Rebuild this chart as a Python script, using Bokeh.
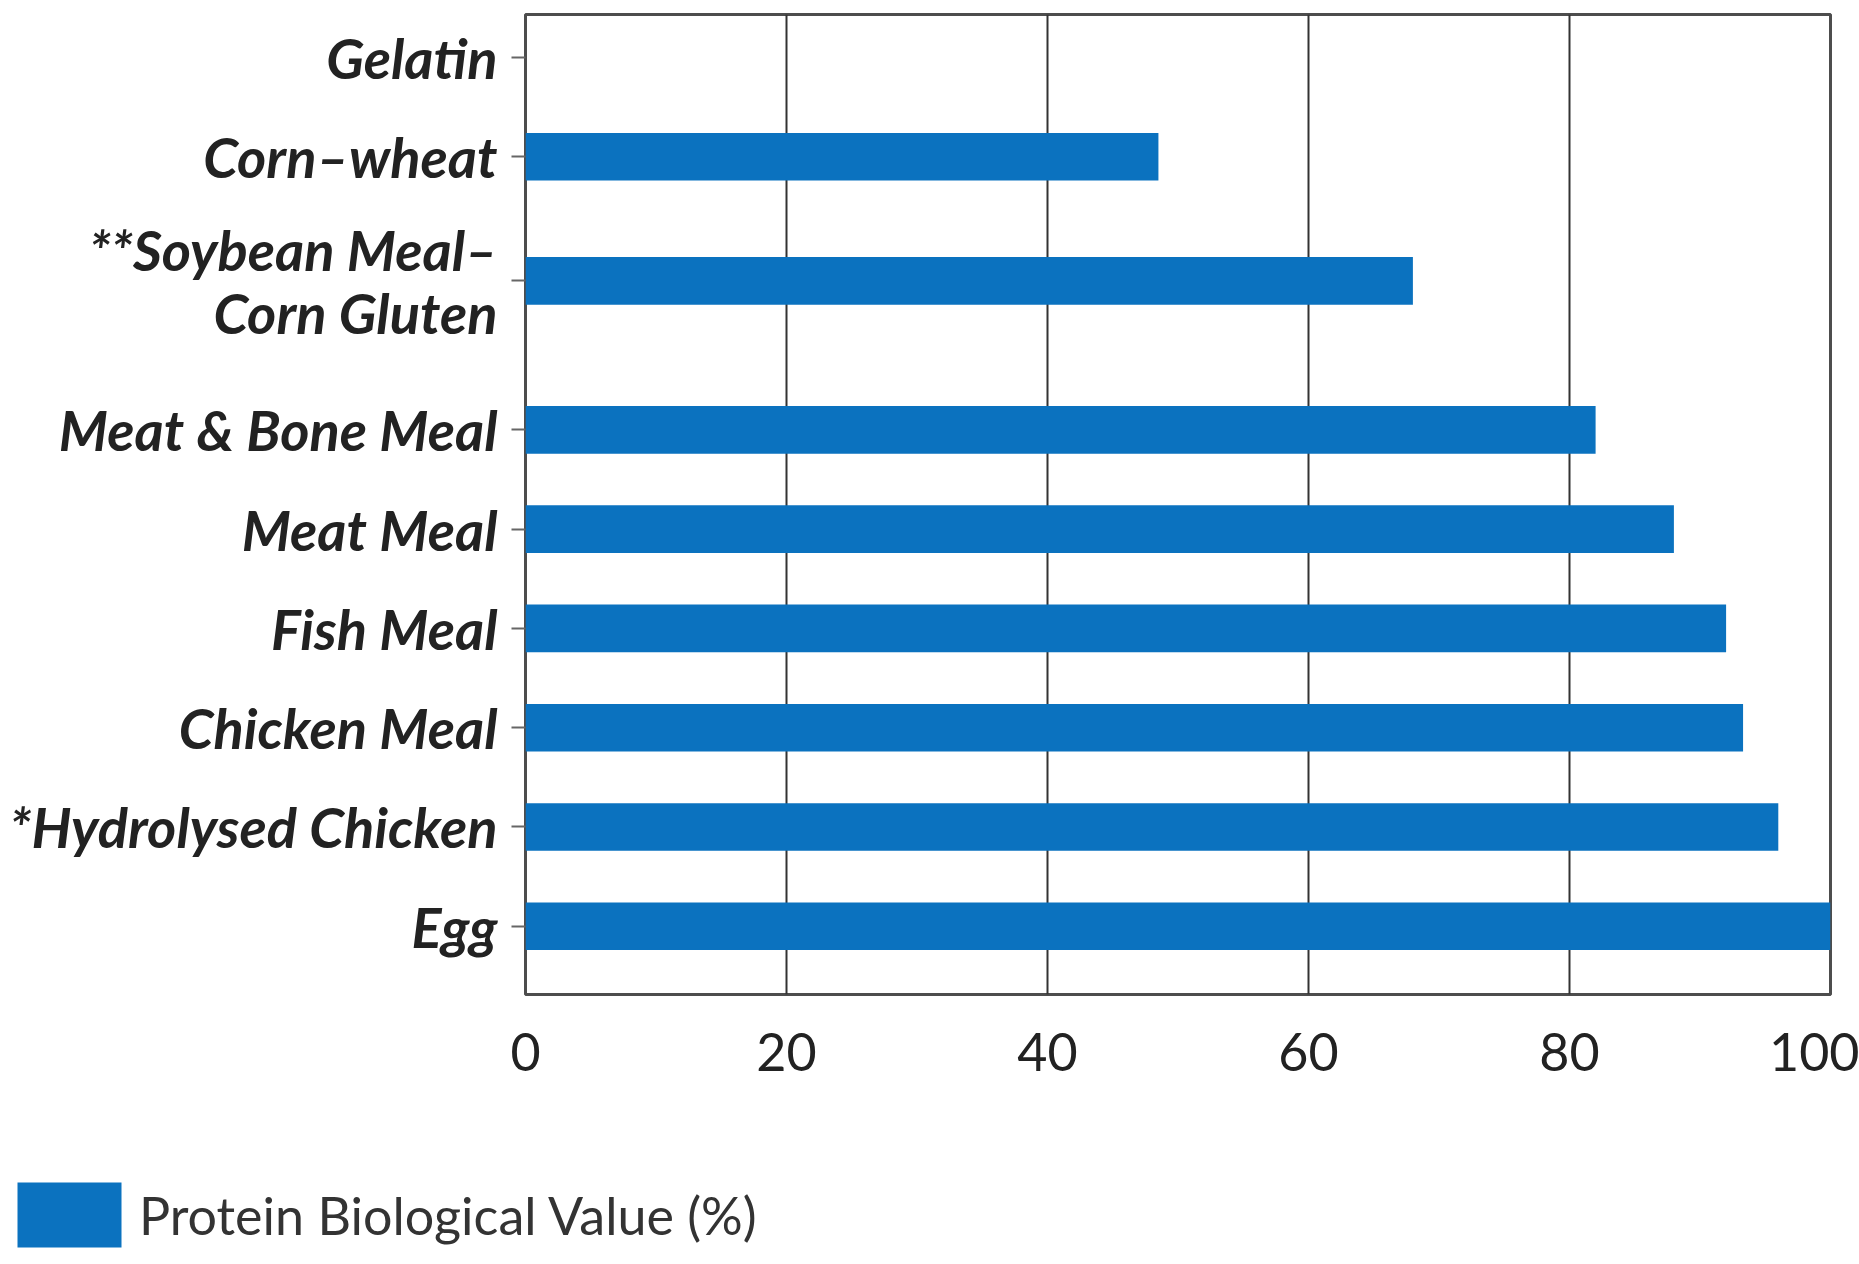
from bokeh.plotting import figure
from bokeh.layouts import column
from bokeh.models import Range1d, FixedTicker, Legend, LegendItem, ColumnDataSource
from bokeh.embed import file_html
from bokeh.resources import INLINE

# Protein sources and their biological value (%)
sources = ["Gelatin", "Corn\u2013wheat", "**Soybean Meal\u2013\nCorn Gluten",
           "Meat & Bone Meal", "Meat Meal", "Fish Meal", "Chicken Meal",
           "*Hydrolysed Chicken", "Egg"]
values = [0, 48.5, 68, 82, 88, 92, 93.3, 96, 100]
x_ticks = [0, 20, 40, 60, 80, 100]
series_name = "Protein Biological Value (%)"

# vertical slot of each row (the two-line label gets extra room)
slots = [0, 1, 2.25, 3.75, 4.75, 5.75, 6.75, 7.75, 8.75]

BLUE = "#0B72BF"
W = 1859
H_MAIN = 1150
H_KEY = 1264 - H_MAIN

p = figure(width=W, height=H_MAIN, output_backend="svg", toolbar_location=None,
           x_range=Range1d(0, 100), y_range=Range1d(9.437, -0.433),
           min_border_left=525, min_border_right=29, min_border_top=14,
           min_border_bottom=H_MAIN - 994)
p.background_fill_color = "white"
p.border_fill_color = "white"
p.outline_line_color = "#4d4d4d"
p.outline_line_width = 3

src = ColumnDataSource(dict(y=slots, v=values, name=sources))
p.hbar(y="y", right="v", left=0, height=0.48, source=src,
       fill_color=BLUE, line_color=None)

# x axis
p.xaxis.ticker = FixedTicker(ticks=x_ticks)
p.xaxis.axis_line_color = None
p.xaxis.major_tick_line_color = None
p.xaxis.minor_tick_line_color = None
p.xaxis.major_tick_out = 0
p.xaxis.major_tick_in = 0
p.xaxis.major_label_standoff = 38
p.xaxis.major_label_text_font = "Lato"
p.xaxis.major_label_text_font_size = "52px"
p.xaxis.major_label_text_color = "#222222"

# y axis with the source names
p.yaxis.ticker = FixedTicker(ticks=slots)
p.yaxis.major_label_overrides = {s: n for s, n in zip(slots, sources)}
p.yaxis.axis_line_color = None
p.yaxis.major_tick_line_color = "#666666"
p.yaxis.major_tick_line_width = 2
p.yaxis.major_tick_out = 14
p.yaxis.major_tick_in = 0
p.yaxis.minor_tick_line_color = None
p.yaxis.major_label_standoff = 14
p.yaxis.major_label_text_font = "Lato"
p.yaxis.major_label_text_font_style = "bold italic"
p.yaxis.major_label_text_font_size = "56px"
p.yaxis.major_label_text_line_height = 0.95
p.yaxis.major_label_text_color = "#222222"

p.xgrid.ticker = FixedTicker(ticks=x_ticks)
p.xgrid.grid_line_color = "#333333"
p.xgrid.grid_line_width = 2
p.ygrid.grid_line_color = None

# key strip underneath the chart
k = figure(width=W, height=H_KEY, output_backend="svg", toolbar_location=None,
           x_range=Range1d(0, 1), y_range=Range1d(0, 1),
           min_border=0, outline_line_color=None)
if hasattr(k, "frame_align"):
    k.frame_align = False
k.axis.visible = False
k.grid.visible = False
k.background_fill_color = "white"
k.border_fill_color = "white"
# one out-of-view row so the key swatch has a glyph to draw from
key_src = ColumnDataSource(dict(y=[-5], v=[1]))
key_bar = k.hbar(y="y", right="v", left=0, height=0.5, source=key_src,
                 fill_color=BLUE, line_color=None)
legend = Legend(items=[LegendItem(label=series_name, renderers=[key_bar])],
                location=(4, 9), orientation="horizontal",
                glyph_width=130, glyph_height=81, label_standoff=5,
                padding=0, margin=0, spacing=0,
                border_line_color=None, background_fill_alpha=0,
                label_text_font="Lato", label_text_font_size="52px",
                label_text_color="#333333")
k.add_layout(legend, "center")

layout = column(p, k, spacing=0)
open("out.html", "w").write(file_html(layout, INLINE))
